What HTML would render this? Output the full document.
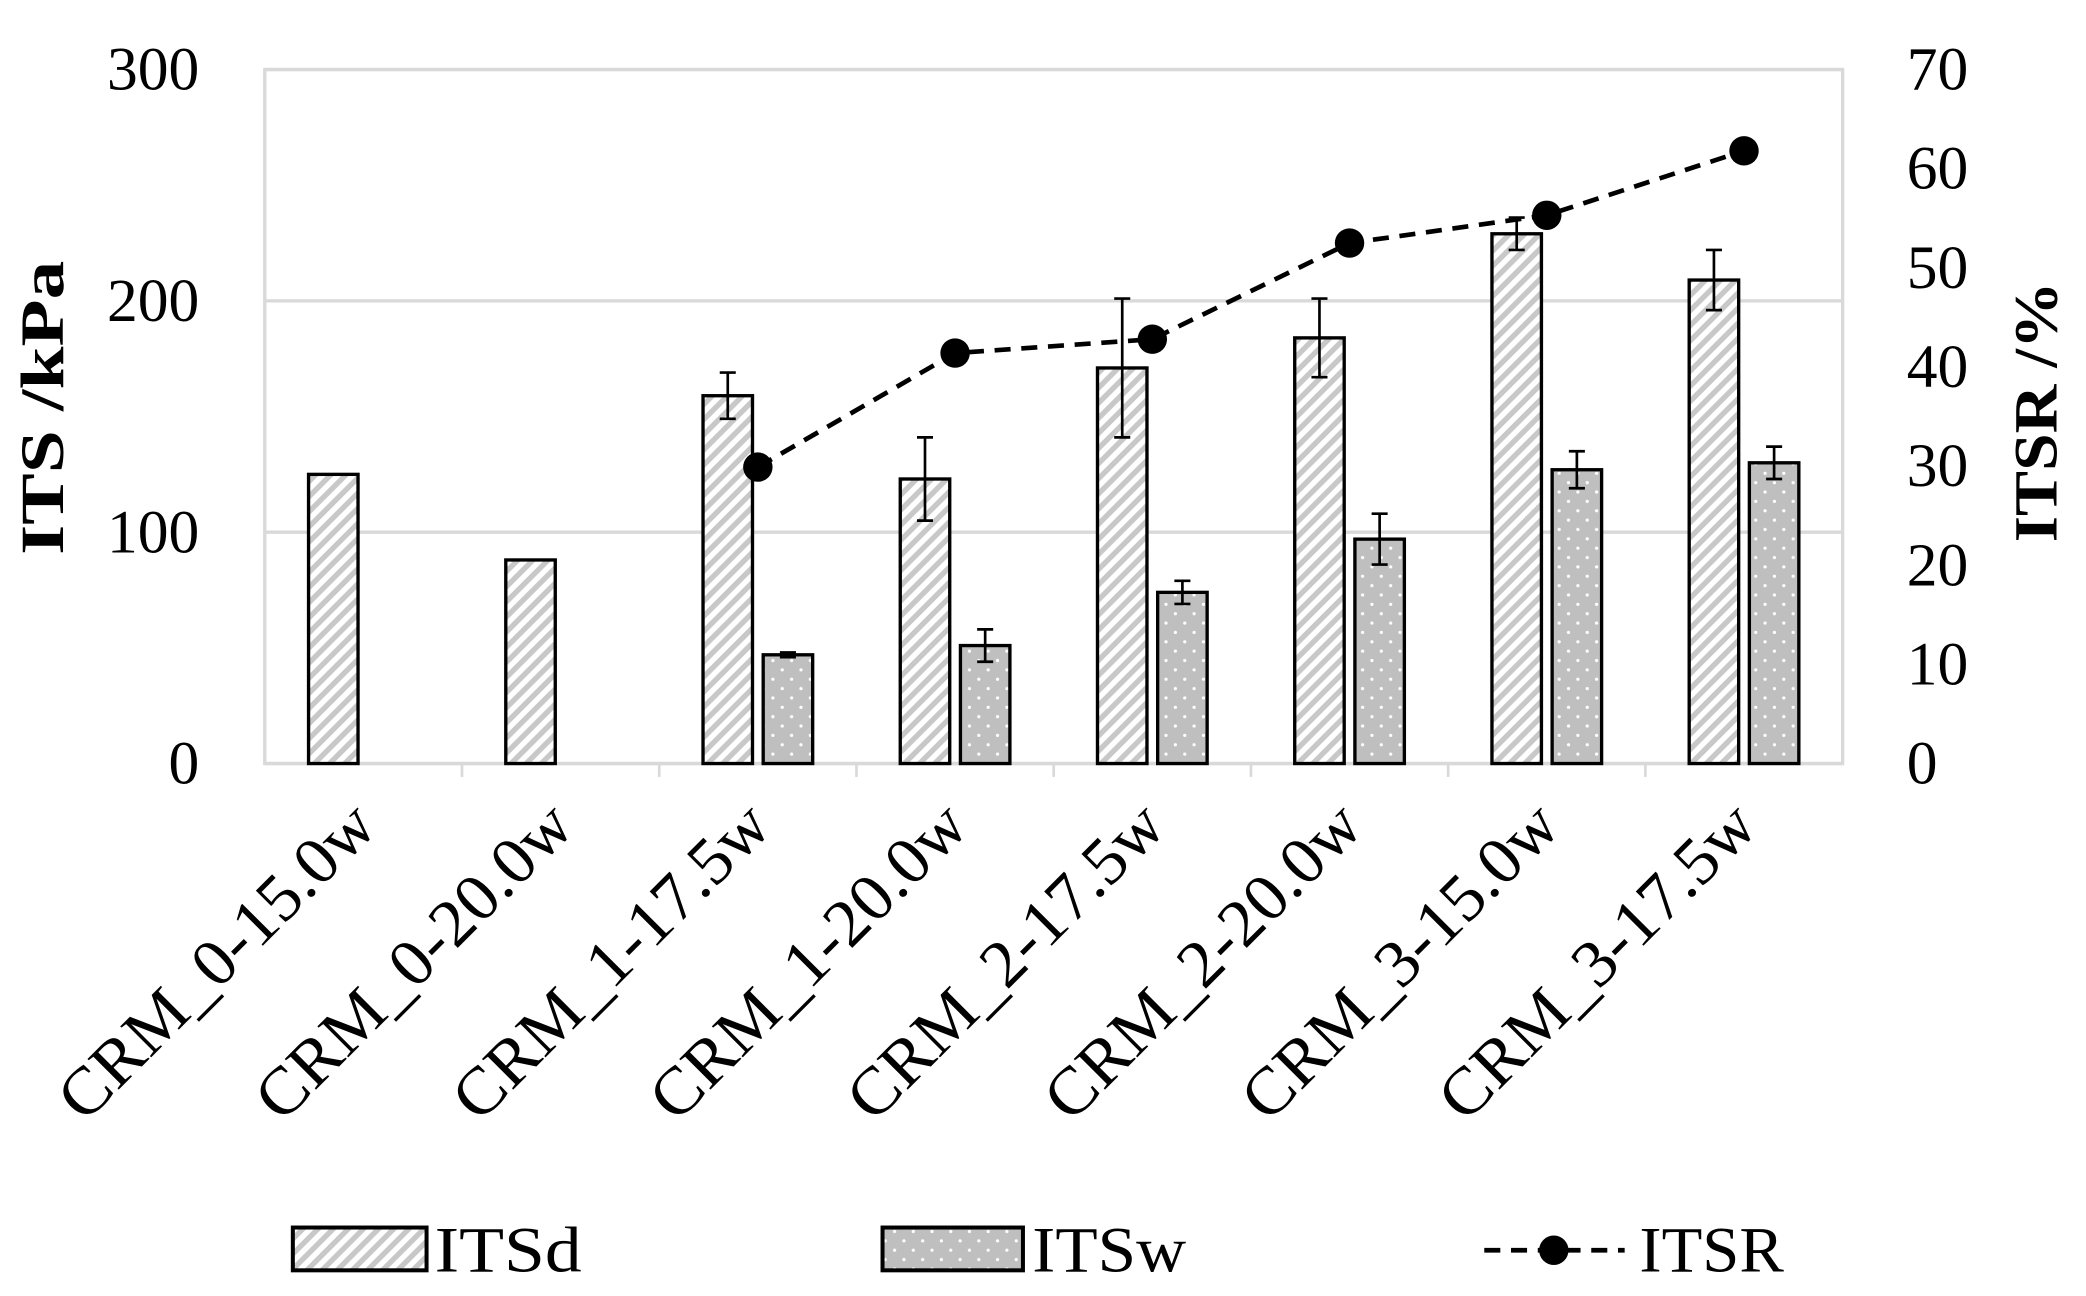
<!DOCTYPE html>
<html><head><meta charset="utf-8"><style>
html,body{margin:0;padding:0;background:#fff;}
svg{display:block;font-family:"Liberation Serif",serif;}
</style></head><body>
<svg id="chart" width="2086" height="1296" viewBox="0 0 1560 969.2" preserveAspectRatio="none" xmlns="http://www.w3.org/2000/svg">
<defs>
<pattern id="hatch" patternUnits="userSpaceOnUse" width="8" height="8" patternTransform="rotate(45)">
<rect width="8" height="8" fill="#fff"/><rect width="4" height="8" fill="#c8c8c8"/>
</pattern>
<pattern id="dots" patternUnits="userSpaceOnUse" width="14" height="14">
<rect width="14" height="14" fill="#bfbfbf"/><circle cx="4" cy="4" r="1.2" fill="#fff"/><circle cx="11" cy="11" r="1.2" fill="#fff"/>
</pattern>
</defs>
<g id="grid"></g>
<g id="marks"></g>
<g id="labels"></g>
</svg>
<script>
const categories=["CRM_0-15.0w","CRM_0-20.0w","CRM_1-17.5w","CRM_1-20.0w","CRM_2-17.5w","CRM_2-20.0w","CRM_3-15.0w","CRM_3-17.5w"];
const itsd=[125,88,159,123,171,184,229,209];
const itsdErr=[0,0,10,18,30,17,7,13];
const itsw=[null,null,47,51,74,97,127,130];
const itswErr=[0,0,1,7,5,11,8,7];
const itsr=[null,null,29.9,41.4,42.8,52.5,55.3,61.8];
const leftTicks=[0,100,200,300];
const rightTicks=[0,10,20,30,40,50,60,70];

const NS="http://www.w3.org/2000/svg";
const X0=198,X1=1378,Y0=571,Y1=52;
const band=(X1-X0)/categories.length;
const xc=i=>X0+band*(i+0.5);
const yL=v=>Y0-(v/300)*(Y0-Y1);
const yR=v=>Y0-(v/70)*(Y0-Y1);
function mk(tag,attrs,parent,txt){const e=document.createElementNS(NS,tag);for(const k in attrs)e.setAttribute(k,attrs[k]);if(txt!==undefined)e.textContent=txt;parent.appendChild(e);return e;}
const grid=document.getElementById('grid'),marks=document.getElementById('marks'),labels=document.getElementById('labels');

mk('rect',{x:X0,y:Y1,width:X1-X0,height:Y0-Y1,fill:'none',stroke:'#d9d9d9','stroke-width':2.5},grid);
leftTicks.forEach(t=>{
 const l=mk('line',{x1:X0,x2:X1,y1:yL(t),y2:yL(t),stroke:'#d9d9d9','stroke-width':2.5},grid);
 
 
 const tx=mk('text',{x:149,y:yL(t)+15,'font-size':46,'text-anchor':'end'},labels,t);
 
 
});
rightTicks.forEach(t=>{
 const tx=mk('text',{x:1426,y:yR(t)+15,'font-size':46,'text-anchor':'start'},labels,t);
 
 
});
for(let i=1;i<categories.length;i++){
 mk('line',{x1:X0+band*i,x2:X0+band*i,y1:Y0,y2:Y0+10,stroke:'#d9d9d9','stroke-width':2},grid);
}
const BW=37,OFF=22.5;
function errBar(x,v,e){
 if(!e)return;
 const g=mk('g',{stroke:'#000','stroke-width':2},marks);
 
 
 mk('line',{x1:x,x2:x,y1:yL(v+e),y2:yL(v-e)},g);
 mk('line',{x1:x-6,x2:x+6,y1:yL(v+e),y2:yL(v+e)},g);
 mk('line',{x1:x-6,x2:x+6,y1:yL(v-e),y2:yL(v-e)},g);
}
categories.forEach((c,i)=>{
 const x=xc(i)-OFF;
 const r=mk('rect',{x:x-BW/2,y:yL(itsd[i]),width:BW,height:Y0-yL(itsd[i]),fill:'url(#hatch)',stroke:'#000','stroke-width':2.5},marks);
 
 
 errBar(x,itsd[i],itsdErr[i]);
 if(itsw[i]!==null){
  const x2=xc(i)+OFF;
  const r2=mk('rect',{x:x2-BW/2,y:yL(itsw[i]),width:BW,height:Y0-yL(itsw[i]),fill:'url(#dots)',stroke:'#000','stroke-width':2.5},marks);
  
  
  errBar(x2,itsw[i],itswErr[i]);
 }
 const lx=xc(i)+12,ly=620;
 const t=mk('text',{x:lx,y:ly,'font-size':50,'text-anchor':'end',textLength:312,lengthAdjust:'spacingAndGlyphs',transform:`rotate(-45 ${lx} ${ly})`},labels,c);
 
 
});
let pts=[];
itsr.forEach((v,i)=>{if(v!==null)pts.push([xc(i),yR(v)]);});
const pl=mk('polyline',{points:pts.map(p=>p.join(',')).join(' '),fill:'none',stroke:'#000','stroke-width':3.5,'stroke-dasharray':'12 8'},marks);


pts.forEach((p,k)=>{
 const c=mk('circle',{cx:p[0],cy:p[1],r:11,fill:'#000'},marks);
 
 
});
const yt=mk('text',{x:0,y:0,'font-size':46,'font-weight':'bold','text-anchor':'middle',textLength:220,lengthAdjust:'spacingAndGlyphs',transform:'translate(47 305) rotate(-90)'},labels,'ITS /kPa');


const yt2=mk('text',{x:0,y:0,'font-size':46,'font-weight':'bold','text-anchor':'middle',textLength:195,lengthAdjust:'spacingAndGlyphs',transform:'translate(1538 308) rotate(-90)'},labels,'ITSR /%');


// legend
const lg=mk('g',{},labels);


const e1=mk('rect',{x:219,y:918,width:100,height:32,fill:'url(#hatch)',stroke:'#000','stroke-width':3},lg);


mk('text',{x:325,y:951,'font-size':48,textLength:110,lengthAdjust:'spacingAndGlyphs'},lg,'ITSd');
const e2=mk('rect',{x:660,y:918,width:105,height:32,fill:'url(#dots)',stroke:'#000','stroke-width':3},lg);


mk('text',{x:772,y:951,'font-size':48,textLength:115,lengthAdjust:'spacingAndGlyphs'},lg,'ITSw');
mk('line',{x1:1110,x2:1215,y1:935,y2:935,stroke:'#000','stroke-width':3.5,'stroke-dasharray':'12 8'},lg);
mk('circle',{cx:1162,cy:935,r:11,fill:'#000'},lg);
mk('text',{x:1226,y:951,'font-size':48,textLength:108,lengthAdjust:'spacingAndGlyphs'},lg,'ITSR');
</script>
</body></html>
